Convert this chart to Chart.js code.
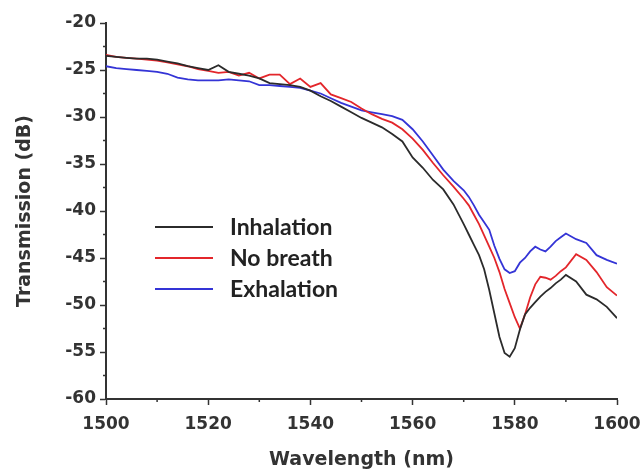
<!DOCTYPE html>
<html>
<head>
<meta charset="utf-8">
<script src="https://cdn.jsdelivr.net/npm/chart.js@4.4.1/dist/chart.umd.min.js"></script>
<style>
  html, body { margin: 0; padding: 0; background: #fff; }
  .chart-box { width: 643px; height: 473px; }
</style>
</head>
<body>
<div class="chart-box"><canvas id="spectrumChart"></canvas></div>
<script>
// wavelength grid (nm): 2 nm steps, 1 nm steps through the dip
const wavelengths = [
  1500, 1502, 1504, 1506, 1508, 1510, 1512, 1514, 1516, 1518, 1520, 1522,
  1524, 1526, 1528, 1530, 1532, 1534, 1536, 1538, 1540, 1542, 1544, 1546,
  1548, 1550, 1552, 1554, 1556, 1558, 1560, 1562, 1564, 1566, 1568, 1570,
  1571, 1572, 1573, 1574, 1575, 1576, 1577, 1578, 1579, 1580,
  1581, 1582, 1583, 1584, 1585, 1586, 1587, 1588, 1589, 1590,
  1592, 1594, 1596, 1598, 1600
];

const inhalation = [
  -23.5, -23.6, -23.7, -23.8, -23.8, -23.9, -24.1, -24.3, -24.6, -24.8, -25.0, -24.5,
  -25.2, -25.4, -25.6, -25.9, -26.4, -26.5, -26.6, -26.8, -27.2, -27.8, -28.3, -28.9,
  -29.5, -30.1, -30.6, -31.1, -31.8, -32.6, -34.3, -35.4, -36.7, -37.7, -39.3, -41.4,
  -42.5, -43.6, -44.7, -46.2, -48.4, -50.9, -53.4, -55.1, -55.5, -54.6,
  -52.6, -51.0, -50.3, -49.7, -49.1, -48.6, -48.2, -47.7, -47.3, -46.8,
  -47.5, -48.9, -49.4, -50.2, -51.4
];

const noBreath = [
  -23.4, -23.6, -23.7, -23.8, -23.9, -24.0, -24.2, -24.4, -24.6, -24.9, -25.1, -25.3,
  -25.2, -25.6, -25.3, -25.9, -25.5, -25.5, -26.5, -25.9, -26.8, -26.4, -27.6, -28.0,
  -28.4, -29.1, -29.7, -30.2, -30.6, -31.3, -32.3, -33.5, -34.9, -36.2, -37.4, -38.7,
  -39.4, -40.4, -41.4, -42.6, -43.8, -45.0, -46.5, -48.3, -49.8, -51.3,
  -52.5, -51.0, -49.2, -47.8, -47.0, -47.1, -47.3, -46.9, -46.4, -46.0,
  -44.6, -45.2, -46.5, -48.1, -49.0
];

const exhalation = [
  -24.6, -24.8, -24.9, -25.0, -25.1, -25.2, -25.4, -25.8, -26.0, -26.1, -26.1, -26.1,
  -26.0, -26.1, -26.2, -26.6, -26.6, -26.7, -26.8, -26.9, -27.2, -27.5, -28.0, -28.5,
  -28.9, -29.3, -29.5, -29.7, -29.9, -30.3, -31.3, -32.6, -34.1, -35.6, -36.8, -37.8,
  -38.5, -39.4, -40.4, -41.2, -42.0, -43.7, -45.1, -46.2, -46.6, -46.4,
  -45.5, -45.0, -44.3, -43.8, -44.1, -44.3, -43.8, -43.2, -42.8, -42.4,
  -43.0, -43.4, -44.7, -45.2, -45.6
];

const seriesLabels = ['Inhalation', 'No breath', 'Exhalation'];
const seriesColors = ['#2b2b2b', '#e3262b', '#3434d6'];

const xMajorTicks = [1500, 1520, 1540, 1560, 1580, 1600];
const xMinorTicks = [1510, 1530, 1550, 1570, 1590];
const yMajorTicks = [-60, -55, -50, -45, -40, -35, -30, -25, -20];
const yMinorTicks = [-57.5, -52.5, -47.5, -42.5, -37.5, -32.5, -27.5, -22.5];

const AXIS_COLOR = '#333';
const tickFont = { family: 'DejaVu Sans', weight: 'bold', size: 17 };
const titleFont = { family: 'DejaVu Sans', weight: 'bold', size: 19 };

const toPoints = (values) => values.map((v, i) => ({ x: wavelengths[i], y: v }));

// short outward minor ticks, placed with the chart's own scales
const minorTicksPlugin = {
  id: 'minorTicks',
  afterDraw(chart) {
    const { ctx, scales: { x, y } } = chart;
    ctx.save();
    ctx.strokeStyle = AXIS_COLOR;
    ctx.lineWidth = 1.5;
    ctx.beginPath();
    xMinorTicks.forEach((v) => {
      const px = x.getPixelForValue(v);
      ctx.moveTo(px, x.top);
      ctx.lineTo(px, x.top + 3);
    });
    yMinorTicks.forEach((v) => {
      const py = y.getPixelForValue(v);
      ctx.moveTo(y.right, py);
      ctx.lineTo(y.right - 3, py);
    });
    ctx.stroke();
    ctx.restore();
  }
};

// legend inside the plot, left of the dip
const insideLegendPlugin = {
  id: 'insideLegend',
  afterDatasetsDraw(chart) {
    const { ctx } = chart;
    const startX = 155;
    const lineLen = 58;
    const firstY = 227;
    const rowGap = 31;
    ctx.save();
    ctx.font = 'bold 23px Lato';
    ctx.textBaseline = 'middle';
    chart.data.datasets.forEach((ds, i) => {
      const rowY = firstY + i * rowGap;
      ctx.strokeStyle = ds.borderColor;
      ctx.lineWidth = 2;
      ctx.beginPath();
      ctx.moveTo(startX, rowY);
      ctx.lineTo(startX + lineLen, rowY);
      ctx.stroke();
      ctx.fillStyle = '#222';
      ctx.fillText(ds.label, startX + 75, rowY + 1);
    });
    ctx.restore();
  }
};

const datasets = [inhalation, noBreath, exhalation].map((values, i) => ({
  label: seriesLabels[i],
  data: toPoints(values),
  borderColor: seriesColors[i],
  borderWidth: 1.8,
  pointRadius: 0,
  tension: 0,
  fill: false
}));

new Chart(document.getElementById('spectrumChart'), {
  type: 'line',
  data: { datasets },
  options: {
    responsive: true,
    maintainAspectRatio: false,
    animation: false,
    devicePixelRatio: 1,
    layout: { padding: { top: 23, right: 26, left: 0, bottom: 0 } },
    plugins: {
      legend: { display: false },
      tooltip: { enabled: false }
    },
    scales: {
      x: {
        type: 'linear',
        min: 1500,
        max: 1600,
        afterBuildTicks: (scale) => { scale.ticks = xMajorTicks.map((v) => ({ value: v })); },
        afterFit: (scale) => {
          scale.height = 74;
          scale.paddingLeft = 0;
          scale.paddingRight = 0;
        },
        grid: { drawOnChartArea: false, tickLength: 6, tickColor: AXIS_COLOR, tickWidth: 1.5 },
        border: { color: AXIS_COLOR, width: 2 },
        ticks: {
          color: AXIS_COLOR,
          font: tickFont,
          padding: 9,
          maxRotation: 0,
          callback: (value) => String(value)
        },
        title: {
          display: true,
          text: 'Wavelength (nm)',
          color: AXIS_COLOR,
          font: titleFont,
          padding: { top: 0, bottom: 2 }
        }
      },
      y: {
        min: -60,
        max: -20,
        afterBuildTicks: (scale) => { scale.ticks = yMajorTicks.map((v) => ({ value: v })); },
        afterFit: (scale) => {
          scale.width = 106;
          scale.paddingTop = 0;
          scale.paddingBottom = 0;
        },
        grid: { drawOnChartArea: false, tickLength: 6, tickColor: AXIS_COLOR, tickWidth: 1.5 },
        border: { color: AXIS_COLOR, width: 2 },
        ticks: {
          color: AXIS_COLOR,
          font: tickFont,
          padding: 4,
          callback: (value) => String(value)
        },
        title: {
          display: true,
          text: 'Transmission (dB)',
          color: AXIS_COLOR,
          font: titleFont,
          padding: { top: 14, bottom: 0 }
        }
      }
    }
  },
  plugins: [minorTicksPlugin, insideLegendPlugin]
});
</script>
</body>
</html>
